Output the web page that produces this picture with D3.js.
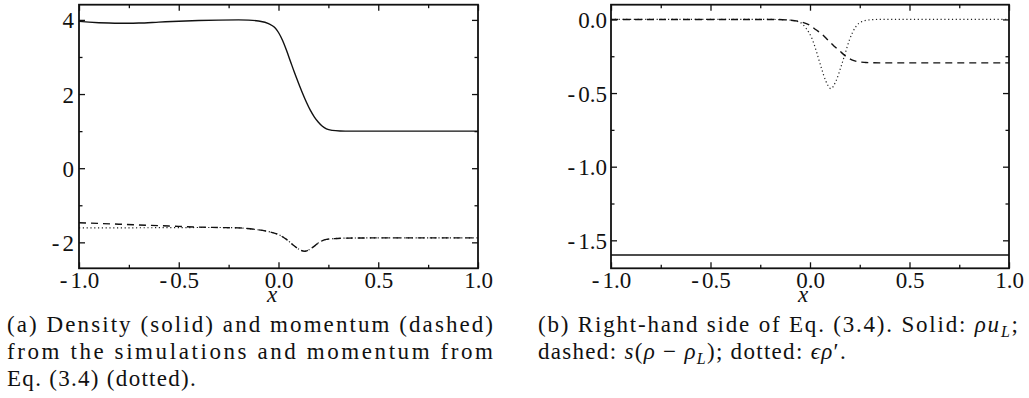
<!DOCTYPE html>
<html>
<head>
<meta charset="utf-8">
<script src="https://cdn.jsdelivr.net/npm/d3@7"></script>
<style>
  @font-face { font-family: "PaperSerif"; src: local("Liberation Serif"), local("LiberationSerif"), local("LiberationSerif-Regular"); font-style: normal; }
  @font-face { font-family: "PaperSerif"; src: local("Liberation Serif Italic"), local("LiberationSerif-Italic"); font-style: italic; }
</style>
</head>
<body style="margin:0">
<svg id="fig" width="1029" height="398"></svg>
<script>
// ---- axis ticks and labels ----
const xTicks = [-1, -0.5, 0, 0.5, 1];
const xMinor = [-0.75, -0.25, 0.25, 0.75];
const xTickLabels = ["-1.0", "-0.5", "0.0", "0.5", "1.0"];

const yTicksA = [-2, 0, 2, 4];
const yMinorA = [-1, 1, 3];
const yTickLabelsA = ["-2", "0", "2", "4"];

const yTicksB = [-1.5, -1, -0.5, 0];
const yMinorB = [-1.25, -0.75, -0.25];
const yTickLabelsB = ["-1.5", "-1.0", "-0.5", "0.0"];

// ---- panel (a): density and momentum ----
const densityX = [-1.0, -0.95, -0.9, -0.85, -0.8, -0.75, -0.7, -0.6, -0.5, -0.4, -0.3, -0.2, -0.15, -0.1, -0.05, -0.02, 0.0, 0.02, 0.04, 0.06, 0.08, 0.10, 0.12, 0.14, 0.16, 0.18, 0.20, 0.22, 0.24, 0.27, 0.31, 0.36, 0.5, 1.0];
const densityY = [3.96, 3.94, 3.925, 3.915, 3.91, 3.91, 3.915, 3.94, 3.965, 3.985, 3.995, 4.0, 3.995, 3.97, 3.9, 3.8, 3.66, 3.45, 3.18, 2.88, 2.58, 2.3, 2.03, 1.78, 1.56, 1.38, 1.24, 1.13, 1.06, 1.02, 1.005, 1.0, 1.0, 1.0];

const momSimX = [-1.0, -0.8, -0.6, -0.5, -0.4, -0.3, -0.2, -0.12, -0.06, 0.0, 0.04, 0.08, 0.11, 0.13, 0.15, 0.18, 0.21, 0.24, 0.28, 0.35, 0.5, 1.0];
const momSimY = [-1.47, -1.51, -1.55, -1.57, -1.59, -1.6, -1.61, -1.65, -1.7, -1.79, -1.92, -2.1, -2.21, -2.24, -2.21, -2.1, -1.98, -1.92, -1.9, -1.885, -1.88, -1.88];

const momEqX = [-1.0, -0.6, -0.4, -0.3, -0.2, -0.12, -0.06, 0.0, 0.04, 0.08, 0.11, 0.13, 0.15, 0.18, 0.21, 0.24, 0.28, 0.35, 0.5, 1.0];
const momEqY = [-1.61, -1.605, -1.6, -1.6, -1.61, -1.65, -1.7, -1.79, -1.92, -2.1, -2.21, -2.24, -2.21, -2.1, -1.98, -1.92, -1.9, -1.885, -1.88, -1.88];

// ---- panel (b): right-hand side terms ----
const rhoUX = [-1.0, 1.0];
const rhoUY = [-1.6, -1.6];

const shiftX = [-1.0, -0.2, -0.1, -0.05, 0.0, 0.03, 0.06, 0.09, 0.12, 0.15, 0.18, 0.21, 0.24, 0.28, 0.35, 1.0];
const shiftY = [0, 0, -0.005, -0.015, -0.04, -0.07, -0.1, -0.14, -0.18, -0.215, -0.25, -0.275, -0.287, -0.292, -0.295, -0.295];

const diffX = [-1.0, -0.2, -0.1, -0.05, -0.02, 0.013, 0.035, 0.055, 0.08, 0.105, 0.13, 0.156, 0.177, 0.198, 0.23, 0.26, 0.3, 0.35, 1.0];
const diffY = [0, 0, -0.005, -0.02, -0.06, -0.14, -0.23, -0.32, -0.42, -0.47, -0.42, -0.32, -0.23, -0.14, -0.05, -0.015, -0.003, 0, 0];

const INK = "#111";
const TICK_FACE = '"Liberation Serif"';
const LABEL_FACE = 'PaperSerif';
const CAPTION_FACE = '"Times New Roman"';
const svg = d3.select("#fig");

function splitHyphen(sel) {
  sel.each(function () {
    const t = d3.select(this);
    const s = t.text();
    if (s.startsWith("-")) {
      t.text(null);
      t.append("tspan").text("-");
      t.append("tspan").attr("dx", 3).text(s.slice(1));
    }
  });
}

function panel(cfg) {
  const g = svg.append("g");
  const x = d3.scaleLinear().domain([-1, 1]).range([cfg.left, cfg.right]);
  const y = d3.scaleLinear().domain(cfg.yDomain).range([cfg.bottom, cfg.top]);

  const styleAxis = a => {
    a.attr("font-family", null).attr("font-size", null);
    a.select(".domain").remove();
    a.selectAll("line").attr("stroke", INK).attr("stroke-width", 1.3);
  };

  // bottom: major with labels, minor
  const bx = g.append("g").attr("transform", `translate(0,${cfg.bottom})`)
    .call(d3.axisBottom(x).tickValues(xTicks).tickSize(-6).tickPadding(0)
      .tickFormat((d, i) => xTickLabels[i]));
  styleAxis(bx);
  bx.selectAll("text").attr("y", 20).attr("dy", 0).attr("fill", INK)
    .style("font-family", TICK_FACE).style("font-size", "23px").call(splitHyphen);
  g.append("g").attr("transform", `translate(0,${cfg.bottom})`)
    .call(d3.axisBottom(x).tickValues(xMinor).tickSize(-3.5).tickFormat(""))
    .call(styleAxis);

  // top: ticks only
  g.append("g").attr("transform", `translate(0,${cfg.top})`)
    .call(d3.axisTop(x).tickValues(xTicks).tickSize(-6).tickFormat("")).call(styleAxis);
  g.append("g").attr("transform", `translate(0,${cfg.top})`)
    .call(d3.axisTop(x).tickValues(xMinor).tickSize(-3.5).tickFormat("")).call(styleAxis);

  // left: major with labels, minor
  const ly = g.append("g").attr("transform", `translate(${cfg.left},0)`)
    .call(d3.axisLeft(y).tickValues(cfg.yTicks).tickSize(-6).tickPadding(0)
      .tickFormat((d, i) => cfg.yLabels[i]));
  styleAxis(ly);
  ly.selectAll("text").attr("x", -cfg.labelGap).attr("y", 8).attr("dy", 0).attr("fill", INK)
    .style("font-family", TICK_FACE).style("font-size", "23px").call(splitHyphen);
  g.append("g").attr("transform", `translate(${cfg.left},0)`)
    .call(d3.axisLeft(y).tickValues(cfg.yMinor).tickSize(-3.5).tickFormat(""))
    .call(styleAxis);

  // right: ticks only
  g.append("g").attr("transform", `translate(${cfg.right},0)`)
    .call(d3.axisRight(y).tickValues(cfg.yTicks).tickSize(-6).tickFormat("")).call(styleAxis);
  g.append("g").attr("transform", `translate(${cfg.right},0)`)
    .call(d3.axisRight(y).tickValues(cfg.yMinor).tickSize(-3.5).tickFormat("")).call(styleAxis);

  // curves
  const line = d3.line().x(d => x(d[0])).y(d => y(d[1])).curve(d3.curveMonotoneX);
  cfg.series.forEach(s => {
    const pts = s.xs.map((v, i) => [v, s.ys[i]]);
    g.append("path").attr("d", line(pts))
      .attr("fill", "none").attr("stroke", s.color || INK)
      .attr("stroke-width", s.width)
      .attr("stroke-dasharray", s.dash || null);
  });

  // frame
  g.append("rect")
    .attr("x", cfg.left).attr("y", cfg.top)
    .attr("width", cfg.right - cfg.left).attr("height", cfg.bottom - cfg.top)
    .attr("fill", "none").attr("stroke", INK).attr("stroke-width", 1.8);

  // axis title
  g.append("text").attr("x", x(0) - 7).attr("y", 302)
    .attr("text-anchor", "middle").attr("fill", INK)
    .style("font-family", LABEL_FACE).style("font-size", "23px")
    .style("font-style", "italic").text("x");
}

const SOLID = { width: 1.4 };
const DASHED = { width: 1.4, dash: "7,5" };
const DOTTED = { width: 1.2, dash: "1.2,2.6", color: "#222" };

panel({
  left: 79, right: 478, top: 4.7, bottom: 268.3,
  yDomain: [-2.7, 4.41], yTicks: yTicksA, yMinor: yMinorA, yLabels: yTickLabelsA,
  labelGap: 5,
  series: [
    Object.assign({ xs: densityX, ys: densityY }, SOLID),
    Object.assign({ xs: momEqX, ys: momEqY }, DOTTED),
    Object.assign({ xs: momSimX, ys: momSimY }, DASHED)
  ]
});

panel({
  left: 611, right: 1009, top: 4.7, bottom: 268.3,
  yDomain: [-1.69, 0.10], yTicks: yTicksB, yMinor: yMinorB, yLabels: yTickLabelsB,
  labelGap: 4,
  series: [
    Object.assign({ xs: rhoUX, ys: rhoUY }, SOLID),
    Object.assign({ xs: diffX, ys: diffY }, DOTTED),
    Object.assign({ xs: shiftX, ys: shiftY }, DASHED)
  ]
});

// ---- captions: SVG text lines; justified lines spread their words with textLength ----
const R = t => ({ t });
const I = t => ({ t, it: true });
const S = t => ({ t, it: true, sub: true });

function captionLine(segs, x0, y, width) {
  const t = svg.append("text").attr("x", x0).attr("y", y).attr("fill", INK)
    .style("font-family", CAPTION_FACE).style("font-size", "23px");
  if (width) t.attr("textLength", width).attr("lengthAdjust", "spacing");
  else t.style("letter-spacing", "1.3px");
  let shifted = false;
  segs.forEach(s => {
    const sp = t.append("tspan").text(s.t);
    if (s.it) sp.style("font-style", "italic");
    if (s.sub) { sp.style("font-size", "16px").attr("dy", 5); shifted = true; }
    else if (shifted) { sp.attr("dy", -5); shifted = false; }
  });
}

captionLine([R("(a) Density (solid) and momentum (dashed)")], 7, 331.5, 486);
captionLine([R("from the simulations and momentum from")], 7, 358.5, 486);
captionLine([R("Eq. (3.4) (dotted).")], 7, 385.5, 0);

captionLine([R("(b) Right-hand side of Eq. (3.4). Solid: "), I("ρu"), S("L"), R(";")], 538, 331.5, 480);
captionLine([R("dashed: "), I("s"), R("("), I("ρ"), R(" − "), I("ρ"), S("L"), R("); dotted: "), I("ϵρ"), R("′.")], 538, 358.5, 0);
</script>
</body>
</html>
